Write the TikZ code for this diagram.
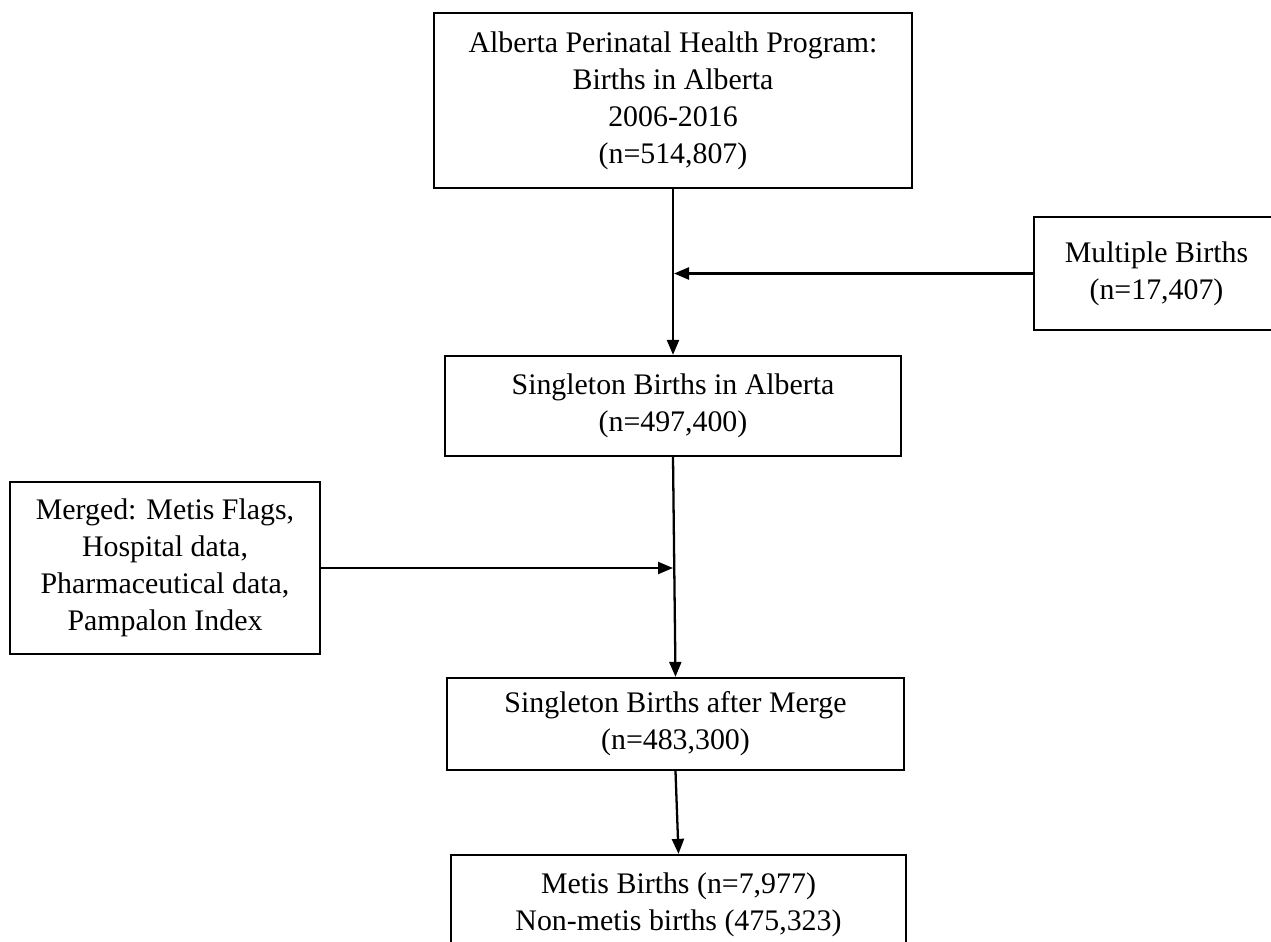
\documentclass[tikz,border=0pt]{standalone}
\usepackage{fontspec}
\setmainfont{Liberation Serif}
\usetikzlibrary{arrows.meta}

\begin{document}
\begin{tikzpicture}[x=0.02cm,y=-0.02cm,
  flowbox/.style={draw, line width=1.3pt, align=center, inner sep=0pt, font=\fontsize{17}{21}\selectfont},
  flowarrow/.style={-{Triangle[length=0.3cm,width=0.24cm]}, line width=1.3pt}]
\useasboundingbox (0,0) rectangle (1271,942);
\node [flowbox, minimum width=9.56cm, minimum height=3.5cm] (prog) at (673,100.5) {Alberta Perinatal Health Program:\\Births in Alberta\\2006-2016\\(n=514,807)};
\node [flowbox, minimum width=4.9cm, minimum height=2.26cm] (multi) at (1156.5,273.5) {Multiple Births\\(n=17,407)};
\node [flowbox, minimum width=9.12cm, minimum height=2cm] (single) at (673,406) {Singleton Births in Alberta\\(n=497,400)};
\node [flowbox, minimum width=6.2cm, minimum height=3.44cm] (merged) at (165,568) {Merged: Metis Flags,\\Hospital data,\\Pharmaceutical data,\\Pampalon Index};
\node [flowbox, minimum width=9.14cm, minimum height=1.84cm] (after) at (675.5,724) {Singleton Births after Merge\\(n=483,300)};
\node [flowbox, minimum width=9.1cm, minimum height=2cm] (metis) at (678.5,905) {Metis Births (n=7,977)\\Non-metis births (475,323)};
\coordinate (m1) at (674,273.5);
\coordinate (m2) at (673,568);
\draw [flowarrow] (prog.south) -- (single.north);
\draw [flowarrow] (multi.west) -- (m1);
\draw [flowarrow] (single.south) -- (after.north);
\draw [flowarrow] (merged.east) -- (m2);
\draw [flowarrow] (after.south) -- (metis.north);
\end{tikzpicture}
\end{document}
